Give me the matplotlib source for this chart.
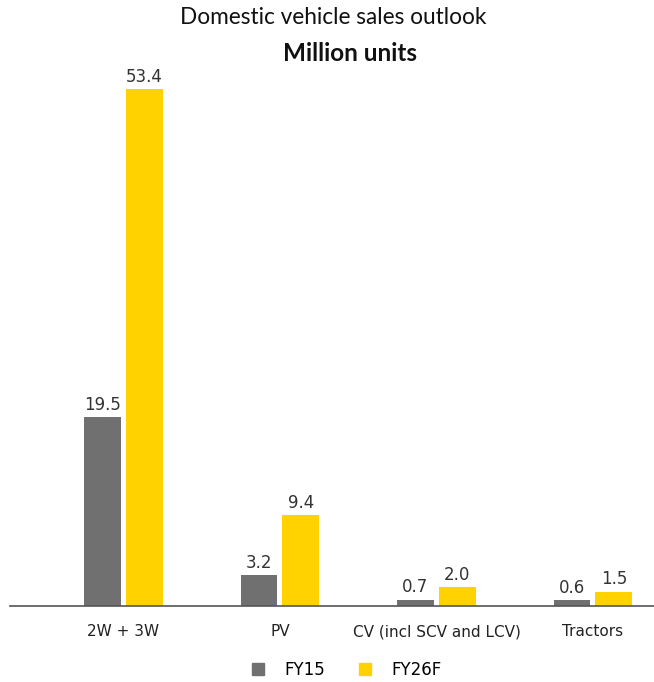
import matplotlib
matplotlib.use("Agg")
import matplotlib.pyplot as plt
from matplotlib.patches import Patch
import numpy as np

# data
categories = ["2W + 3W", "PV", "CV (incl SCV and LCV)", "Tractors"]
fy15 = [19.5, 3.2, 0.7, 0.6]
fy26f = [53.4, 9.4, 2.0, 1.5]
series_names = ["FY15", "FY26F"]

gray = "#707070"
yellow = "#ffd200"

fig = plt.figure(figsize=(6.54, 6.82), dpi=100)
ax = fig.add_axes([0.0153, 0.111, 0.9847, 0.779])

x = np.arange(len(categories))
w = 0.236
off = 0.134
b1 = ax.bar(x - off, fy15, w, color=gray)
b2 = ax.bar(x + off, fy26f, w, color=yellow)

for bars, vals in [(b1, fy15), (b2, fy26f)]:
    for b, v in zip(bars, vals):
        ax.text(b.get_x() + b.get_width() / 2, v + 0.35, f"{v:.1f}",
                ha="center", va="bottom", fontsize=12, color="#333333")

ax.set_xlim(-0.725, 3.39)
ax.set_ylim(0, 54.85)
ax.set_xticks(x)
ax.set_xticklabels(categories, fontsize=11, color="#222222")
ax.tick_params(axis="x", length=0, pad=13)
ax.set_yticks([])
for s in ["left", "right", "top"]:
    ax.spines[s].set_visible(False)
ax.spines["bottom"].set_color("#555555")
ax.spines["bottom"].set_linewidth(1.2)

fig.text(0.509, 0.974, "Domestic vehicle sales outlook", ha="center", va="center",
         fontsize=16.3, family="Lato", color="#111111")
fig.text(0.535, 0.922, "Million units", ha="center", va="center",
         fontsize=17.5, family="Lato", fontweight="bold", color="#111111")

handles = [Patch(color=gray), Patch(color=yellow)]
fig.legend(handles, series_names, loc="center", bbox_to_anchor=(0.53, 0.018),
           ncol=2, frameon=False, fontsize=12, handlelength=0.75, handleheight=0.75,
           columnspacing=2.0, handletextpad=1.2)

fig.savefig("out.png", dpi=100)
